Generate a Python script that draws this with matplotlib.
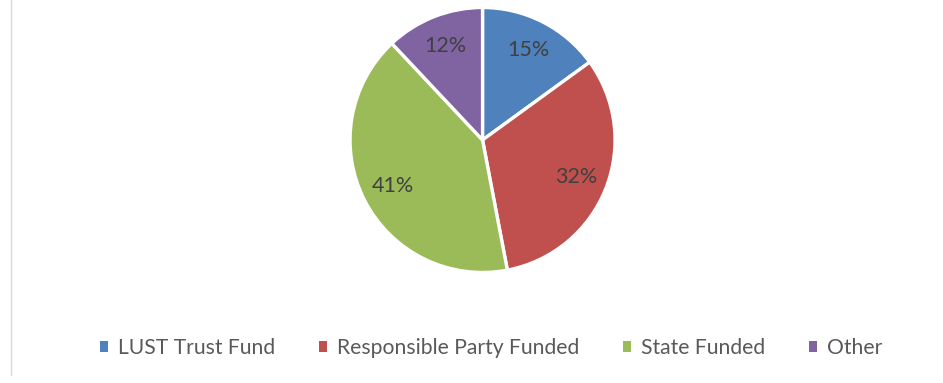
import matplotlib
matplotlib.use('Agg')
import matplotlib.pyplot as plt
from matplotlib.lines import Line2D
from matplotlib.patches import Patch

categories = ['LUST Trust Fund', 'Responsible Party Funded', 'State Funded', 'Other']
shares = [15, 32, 41, 12]
colors = ['#4F81BD', '#C0504D', '#9BBB59', '#8064A2']

plt.rcParams['font.family'] = ['Lato', 'DejaVu Sans']

fig = plt.figure(figsize=(9.43, 3.83), dpi=100)
fig.patch.set_facecolor('white')

# pie area: centre ~ (482.5, 140) px, radius ~132.5 px
ax = fig.add_axes([0.3712, 0.2885, 0.281, 0.692])
wedges, texts, autotexts = ax.pie(
    shares,
    colors=colors,
    startangle=90,
    counterclock=False,
    autopct='%d%%',
    pctdistance=0.76,
    wedgeprops={'edgecolor': 'white', 'linewidth': 2.4},
    textprops={'fontsize': 15.5, 'color': '#404040'},
)
ax.set_xlim(-1, 1)
ax.set_ylim(-1, 1)
ax.set_aspect('equal')
ax.axis('off')

handles = [Patch(facecolor=c, edgecolor='none') for c in colors]
fig.legend(
    handles, categories,
    loc='center', bbox_to_anchor=(0.5207, 0.0914),
    ncol=4, frameon=False,
    fontsize=15.2, labelcolor='#595959',
    handlelength=0.38, handleheight=0.38, handletextpad=0.45,
    columnspacing=2.1,
)

# chart border (only the left edge is visible in the crop)
fig.add_artist(Line2D([10.5 / 943, 10.5 / 943], [1.0, 1 - 375 / 383],
                      color='#D9D9D9', linewidth=1.0))

fig.savefig('out.png', dpi=100, facecolor='white')
